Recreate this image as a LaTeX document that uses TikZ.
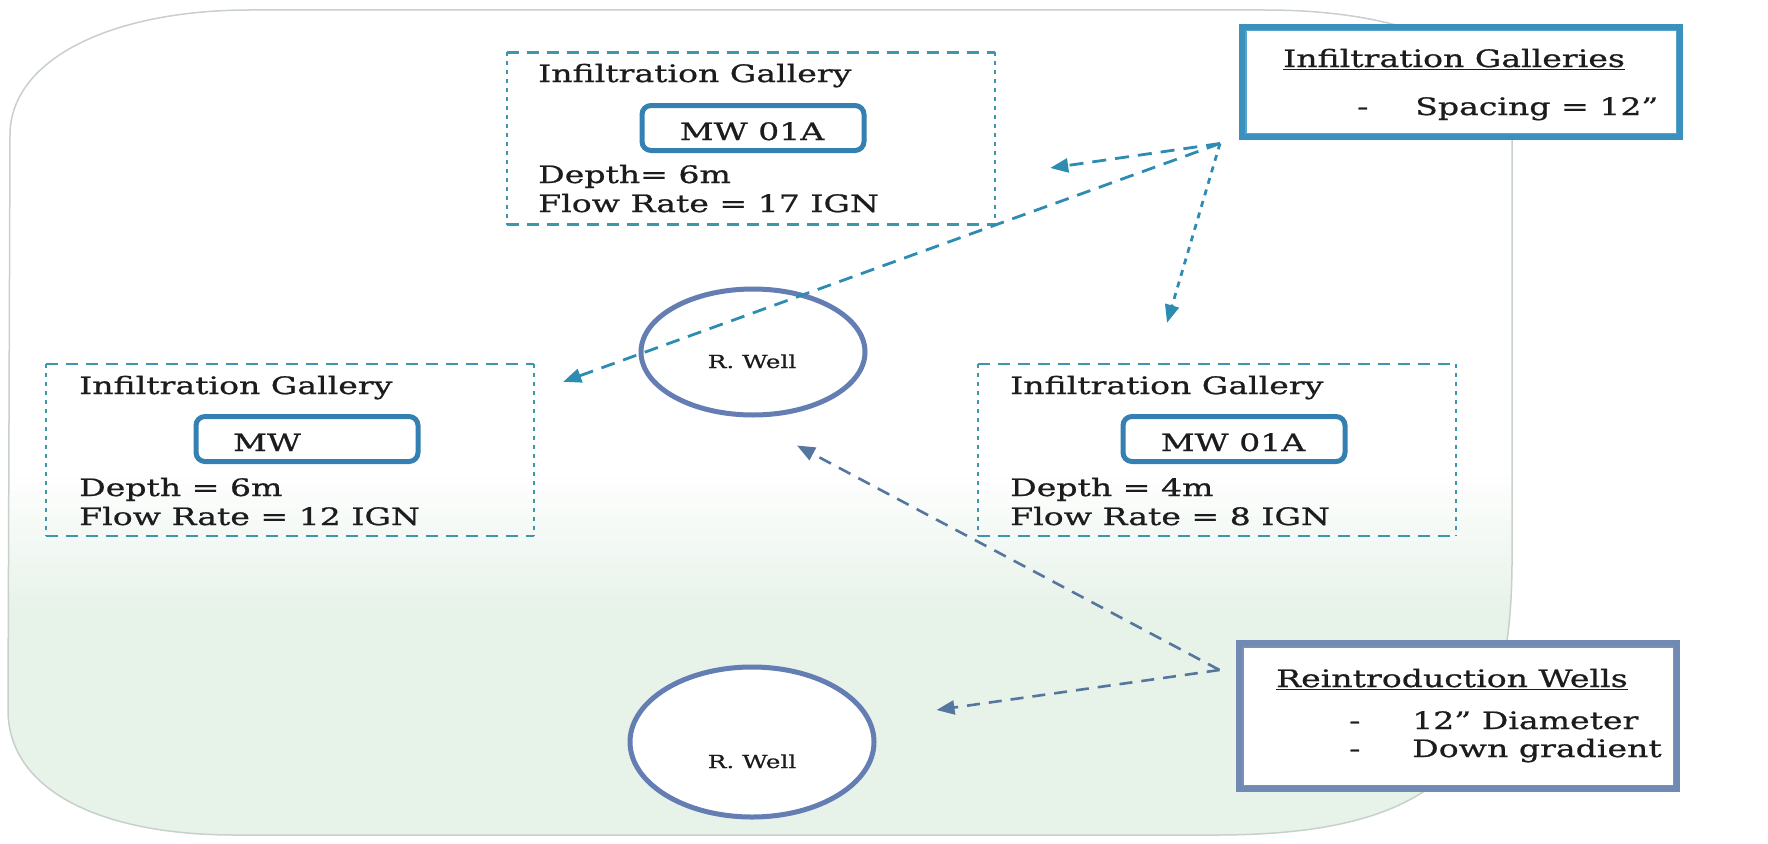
\documentclass[tikz,border=0pt]{standalone}
\usepackage{fontspec}
\setmainfont{DejaVu Serif}[FakeStretch=1.38,FakeBold=0.8]
\usetikzlibrary{arrows.meta,calc,shapes.geometric}

\definecolor{ink}{RGB}{28,28,30}
\definecolor{dashteal}{RGB}{62,150,172}
\definecolor{arrteal}{RGB}{45,140,178}
\definecolor{arrslate}{RGB}{85,118,158}
\definecolor{mwblue}{RGB}{52,128,178}
\definecolor{wellblue}{RGB}{100,125,178}
\definecolor{trouter}{RGB}{58,145,190}
\definecolor{trinner}{RGB}{85,165,205}
\definecolor{rwouter}{RGB}{112,138,180}
\definecolor{rwinner}{RGB}{120,145,185}
\definecolor{mint}{RGB}{231,242,233}
\definecolor{bgedge}{RGB}{200,208,202}

\begin{document}
\begin{tikzpicture}[x=1pt,y=-1pt,
  galbox/.style={minimum width=488pt,minimum height=172pt,inner sep=0pt},
  hdash/.style={draw=dashteal,line width=2.5pt,dash pattern=on 12pt off 8pt},
  vdash/.style={draw=dashteal,line width=2.5pt,dash pattern=on 4pt off 5pt},
  mwbox/.style={draw=mwblue,line width=5pt,rounded corners=9pt,
    minimum width=222pt,minimum height=45pt,inner sep=0pt},
  txt/.style={anchor=base west,inner sep=0pt,text=ink,
    font=\fontsize{24}{28}\selectfont},
  welltxt/.style={anchor=base,inner sep=0pt,text=ink,
    font=\fontsize{18}{21}\selectfont},
  well/.style={ellipse,draw=wellblue,line width=5pt,fill=white,
    minimum width=224pt,minimum height=126pt,inner sep=0pt},
  notebox/.style={draw=#1,line width=7pt,fill=white,inner sep=0pt},
  tealarrow/.style={draw=arrteal,line width=2.8pt,dash pattern=on 14pt off 9pt,
    -{Triangle[length=18pt,width=14pt]}},
  tealarrowv/.style={tealarrow,dash pattern=on 6pt off 6pt},
  slatearrow/.style={draw=arrslate,line width=2.6pt,dash pattern=on 13pt off 9pt,
    -{Triangle[length=18pt,width=14pt]}}
]
\useasboundingbox (0,0) rectangle (1768,843);
\fill[white] (0,0) rectangle (1768,843);

% rounded backdrop, white above fading into pale mint below
\fill[white] (10,135) .. controls (10,60) and (110,10) .. (250,10) -- (1265,10)
  .. controls (1420,10) and (1512,60) .. (1512,130) -- (1512,560)
  .. controls (1512,760) and (1440,835) .. (1215,835) -- (235,835)
  .. controls (100,835) and (8,790) .. (8,710) -- cycle;
\begin{scope}
  \clip (10,135) .. controls (10,60) and (110,10) .. (250,10) -- (1265,10)
    .. controls (1420,10) and (1512,60) .. (1512,130) -- (1512,560)
    .. controls (1512,760) and (1440,835) .. (1215,835) -- (235,835)
    .. controls (100,835) and (8,790) .. (8,710) -- cycle;
  \shade[top color=white,bottom color=mint] (0,470) rectangle (1768,611);
  \fill[mint] (0,610) rectangle (1768,843);
\end{scope}
\draw[bgedge,line width=1.5pt] (10,135) .. controls (10,60) and (110,10) .. (250,10) -- (1265,10)
  .. controls (1420,10) and (1512,60) .. (1512,130) -- (1512,560)
  .. controls (1512,760) and (1440,835) .. (1215,835) -- (235,835)
  .. controls (100,835) and (8,790) .. (8,710) -- cycle;

% infiltration gallery frames
\node[galbox] (g1) at (751,138.5) {};
\node[galbox] (g2) at (290,450) {};
\node[galbox,minimum width=478pt] (g3) at (1217,450) {};
\foreach \b in {g1,g2,g3}{
  \draw[hdash] (\b.north west) -- (\b.north east);
  \draw[hdash] (\b.south west) -- (\b.south east);
  \draw[vdash] (\b.north west) -- (\b.south west);
  \draw[vdash] (\b.north east) -- (\b.south east);
}

% top gallery
\node[txt] (g1t) at (538,82) {Infiltration Gallery};
\node[mwbox] (g1m) at (753,128) {};
\node[txt,anchor=base] (g1mt) at (752,140) {MW 01A};
\node[txt] (g1d) at (538,183) {Depth= 6m};
\node[txt] (g1f) at (538,212) {Flow Rate = 17 IGN};

% left gallery
\node[txt] (g2t) at (79,394) {Infiltration Gallery};
\node[mwbox] (g2m) at (307,439) {};
\node[txt,anchor=base] (g2mt) at (267,451) {MW};
\node[txt] (g2d) at (79,496) {Depth = 6m};
\node[txt] (g2f) at (79,525) {Flow Rate = 12 IGN};

% right gallery
\node[txt] (g3t) at (1010,394) {Infiltration Gallery};
\node[mwbox] (g3m) at (1234,439) {};
\node[txt,anchor=base] (g3mt) at (1233,451) {MW 01A};
\node[txt] (g3d) at (1010,496) {Depth = 4m};
\node[txt] (g3f) at (1010,525) {Flow Rate = 8 IGN};

% reintroduction wells
\node[well] (w1) at (753,352) {};
\node[welltxt] (w1t) at (752,368) {R. Well};
\node[well,minimum width=244pt,minimum height=150pt] (w2) at (752,742) {};
\node[welltxt] (w2t) at (752,768) {R. Well};

% note boxes with thick-thin frames
\node[notebox=trouter,minimum width=437pt,minimum height=109pt] (tr) at (1461,82) {};
\draw[trinner,line width=1.5pt] ($(tr.north west)+(6.75,6.75)$) rectangle ($(tr.south east)+(-6.75,-6.75)$);
\node[txt] (trh) at (1283,67) {\underline{Infiltration Galleries}};
\node[txt] (trd) at (1357,115) {-};
\node[txt] (trs1) at (1415,115) {Spacing = 12”};

\node[notebox=rwouter,minimum width=437pt,minimum height=145pt] (rw) at (1458,716) {};
\draw[rwinner,line width=1.5pt] ($(rw.north west)+(6.75,6.75)$) rectangle ($(rw.south east)+(-6.75,-6.75)$);
\node[txt] (rwh) at (1276,687) {\underline{Reintroduction Wells}};
\node[txt] (rwd1) at (1349,729) {-};
\node[txt] (rwl1) at (1412,729) {12” Diameter};
\node[txt] (rwd2) at (1349,757) {-};
\node[txt] (rwl2) at (1412,757) {Down gradient};

% connectors
\coordinate (trs) at ($(tr.south west)+(-19,3.5)$);
\coordinate (a1) at ($(g1.east)+(55,29.5)$);
\coordinate (a2) at ($(g2.north east)+(29,18)$);
\coordinate (a3) at ($(g3.north)+(-50,-41)$);
\coordinate (rws) at ($(rw.west)+(-16.5,-46)$);
\coordinate (a4) at ($(w1.south)+(44,28)$);
\coordinate (a5) at ($(w2.east)+(60,-32)$);

\draw[tealarrow] (trs) -- (a1);
\draw[tealarrow] (trs) -- (a2);
\draw[tealarrowv] (trs) -- (a3);
\draw[slatearrow] (rws) -- (a4);
\draw[slatearrow] (rws) -- (a5);
\end{tikzpicture}
\end{document}
